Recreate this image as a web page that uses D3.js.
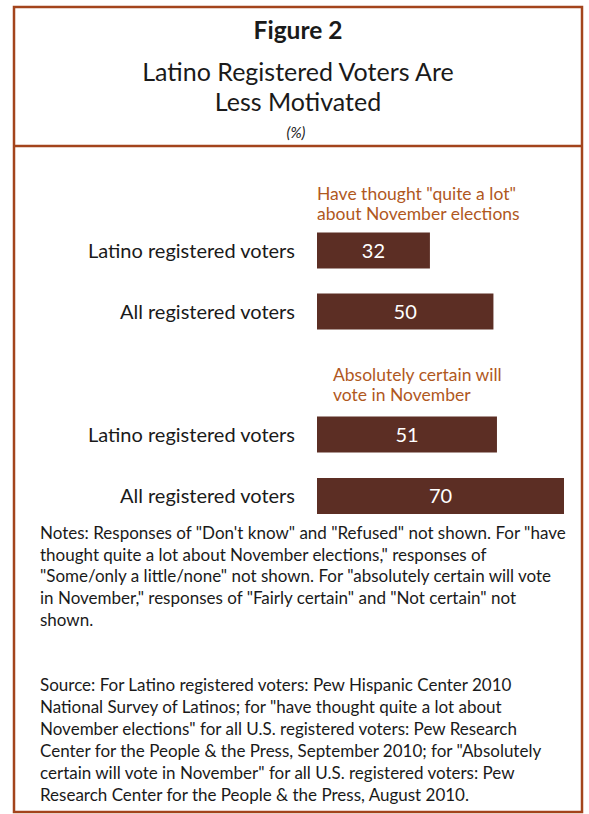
<!DOCTYPE html>
<html><head><meta charset="utf-8">
<script src="https://cdn.jsdelivr.net/npm/d3@7"></script>
<style>body{margin:0;background:#fff}svg{display:block}text{font-family:Lato,"Open Sans",sans-serif}</style>
</head><body>
<script>
const categories = ["Latino registered voters","All registered voters","Latino registered voters","All registered voters"];
const values = [32, 50, 51, 70];
const groupTitles = [["Have thought \"quite a lot\"","about November elections"],["Absolutely certain will","vote in November"]];
const notes = ["Notes: Responses of \"Don't know\" and \"Refused\" not shown. For \"have",
"thought quite a lot about November elections,\" responses of",
"\"Some/only a little/none\" not shown. For \"absolutely certain will vote",
"in November,\" responses of \"Fairly certain\" and \"Not certain\" not",
"shown."];
const source = ["Source: For Latino registered voters: Pew Hispanic Center 2010",
"National Survey of Latinos;  for \"have thought quite a lot about",
"November elections\" for all U.S. registered voters: Pew Research",
"Center for the People & the Press, September 2010; for \"Absolutely",
"certain will vote in November\" for all U.S. registered voters: Pew",
"Research Center for the People & the Press, August 2010."];

const W=589,H=814;
const svg=d3.select("body").append("svg").attr("width",W).attr("height",H);
const border="#a3441c", barC="#5c2e24", annC="#b0581e", txt="#1a1a1a";

svg.append("rect").attr("x",14).attr("y",7).attr("width",568).attr("height",805).attr("fill","none").attr("stroke",border).attr("stroke-width",2.5);
svg.append("line").attr("x1",14).attr("x2",582).attr("y1",146).attr("y2",146).attr("stroke",border).attr("stroke-width",2.5);

svg.append("text").attr("x",298).attr("y",39).attr("text-anchor","middle").attr("font-size",24.5).attr("font-weight","bold").attr("fill",txt).text("Figure 2");
svg.append("text").attr("x",298).attr("y",81).attr("text-anchor","middle").attr("font-size",25).attr("fill",txt).text("Latino Registered Voters Are");
svg.append("text").attr("x",298).attr("y",111).attr("text-anchor","middle").attr("font-size",25).attr("fill",txt).text("Less Motivated");
svg.append("text").attr("x",296).attr("y",138).attr("text-anchor","middle").attr("font-size",15).attr("font-style","italic").attr("fill",txt).text("(%)");

const x=d3.scaleLinear().domain([0,70]).range([317,564]);
const ys=[250.5,311.5,434.5,496];
const bh=36;
const g=svg.append("g");
g.selectAll("rect.bar").data(values).join("rect").attr("class","bar")
 .attr("x",x(0)).attr("y",(d,i)=>ys[i]-bh/2).attr("width",d=>x(d)-x(0)).attr("height",bh).attr("fill",barC);
g.selectAll("text.val").data(values).join("text").attr("class","val")
 .attr("x",d=>(x(0)+x(d))/2).attr("y",(d,i)=>ys[i]+7).attr("text-anchor","middle").attr("font-size",20).attr("fill","#fff").text(d=>d);
g.selectAll("text.cat").data(categories).join("text").attr("class","cat")
 .attr("x",295).attr("y",(d,i)=>ys[i]+7).attr("text-anchor","end").attr("font-size",20).attr("fill",txt).text(d=>d);

const gt=[{x:317,y:200},{x:333,y:381}];
groupTitles.forEach((lines,k)=>{
  lines.forEach((l,j)=>svg.append("text").attr("x",gt[k].x).attr("y",gt[k].y+j*20).attr("font-size",17.5).attr("fill",annC).text(l));
});
notes.forEach((l,j)=>svg.append("text").attr("x",40).attr("y",539+j*21.7).attr("font-size",17).attr("fill",txt).text(l));
source.forEach((l,j)=>svg.append("text").attr("x",40).attr("y",691+j*22).attr("font-size",17).attr("fill",txt).text(l));
</script>
</body></html>
